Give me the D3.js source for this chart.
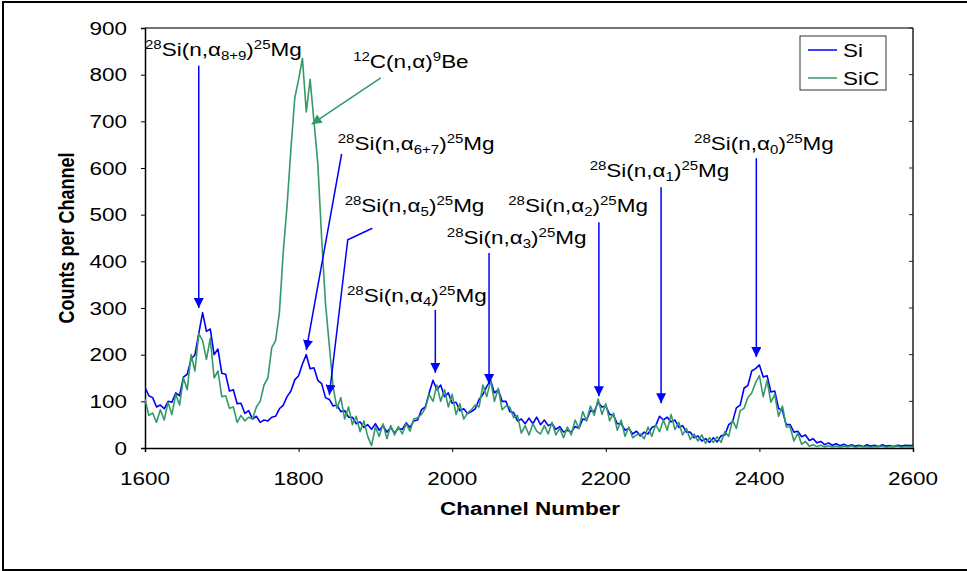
<!DOCTYPE html>
<html><head><meta charset="utf-8">
<script src="https://cdn.jsdelivr.net/npm/d3@7"></script>
<style>body{margin:0;background:#fff}svg{display:block}text{font-family:"Liberation Sans",Arial,sans-serif}</style>
</head><body><svg id="c" width="967" height="571"></svg>
<script>
const channelStart = 1600, channelStep = 5;
const siCounts = [
130,112,108,88,92,84,100,98,118,112,
152,158,190,200,245,290,250,255,200,212,
160,158,122,125,95,96,74,80,62,68,
55,60,58,66,68,84,92,110,122,146,
155,180,200,170,172,145,138,108,104,90,
92,78,80,66,66,52,56,44,50,40,
52,38,48,34,44,32,42,40,54,44,
58,60,82,88,118,145,125,135,110,118,
96,98,80,84,74,78,84,104,115,132,
145,118,125,100,100,78,76,58,62,52,
64,52,66,50,60,48,52,40,46,34,
38,34,46,42,62,60,80,78,98,88,
90,72,70,52,52,38,42,30,36,26,
34,30,44,48,68,60,66,56,60,44,
48,34,34,22,26,15,20,12,22,13,
26,28,50,56,86,92,128,134,165,170,
178,152,155,120,122,85,80,50,50,34,
36,24,28,16,20,11,14,7,11,6,
9,5,8,4,7,4,6,3,7,4,
6,3,7,4,5,3,6,4,6,5,
5];
const sicCounts = [
105,70,75,55,82,60,98,72,115,92,
150,125,200,165,245,230,190,235,150,165,
110,112,85,88,55,70,58,66,62,88,
100,135,150,215,230,290,420,520,640,750,
790,835,720,790,700,610,450,310,220,130,
85,108,62,88,50,68,35,58,25,5,
45,25,52,20,48,28,46,30,52,36,
62,65,72,85,115,100,135,100,125,88,
115,72,95,62,75,82,92,88,135,110,
145,100,128,82,90,88,65,70,32,48,
28,52,36,30,48,30,55,28,42,22,
45,28,60,42,78,58,90,70,105,72,
95,58,75,38,60,25,45,22,28,30,
20,45,25,50,35,60,38,72,40,55,
28,42,18,30,15,28,10,22,12,24,
12,35,25,60,42,80,85,108,118,140,
155,110,145,98,115,68,90,45,45,15,
32,8,14,4,7,3,6,2,5,2,
4,1,4,2,5,1,4,2,3,1,
3,2,4,1,3,2,4,1,3,2,
2];
const xTicks = [1600,1800,2000,2200,2400,2600];
const yTicks = [0,100,200,300,400,500,600,700,800,900];
const seriesNames = ["Si","SiC"];
const seriesColors = ["#0000ff","#339966"];
// annotations: label parts, label anchor (channel, count), arrow path in data coords
const annLabels = [
 {parts:[["28","sup"],["Si(n,α"],["8+9","sub"],[")"],["25","sup"],["Mg"]], at:[1600,840]},
 {parts:[["12","sup"],["C(n,α)"],["9","sup"],["Be"]], at:[1871,814]},
 {parts:[["28","sup"],["Si(n,α"],["6+7","sub"],[")"],["25","sup"],["Mg"]], at:[1851,639]},
 {parts:[["28","sup"],["Si(n,α"],["5","sub"],[")"],["25","sup"],["Mg"]], at:[1860,506]},
 {parts:[["28","sup"],["Si(n,α"],["4","sub"],[")"],["25","sup"],["Mg"]], at:[1863,313]},
 {parts:[["28","sup"],["Si(n,α"],["3","sub"],[")"],["25","sup"],["Mg"]], at:[1993,437]},
 {parts:[["28","sup"],["Si(n,α"],["2","sub"],[")"],["25","sup"],["Mg"]], at:[2073,506]},
 {parts:[["28","sup"],["Si(n,α"],["1","sub"],[")"],["25","sup"],["Mg"]], at:[2179,581]},
 {parts:[["28","sup"],["Si(n,α"],["0","sub"],[")"],["25","sup"],["Mg"]], at:[2315,639]}
];
const annArrows = [
 {pts:[[1670,819],[1670,300]], color:0},
 {pts:[[1907,793],[1817,694]], color:1},
 {pts:[[1856,630],[1810,210]], color:0},
 {pts:[[1896,471],[1864,446],[1840,114]], color:0},
 {pts:[[1978,296],[1978,161]], color:0},
 {pts:[[2048,418],[2048,137]], color:0},
 {pts:[[2191,484],[2191,111]], color:0},
 {pts:[[2272,559],[2272,96]], color:0},
 {pts:[[2396,621],[2396,195]], color:0}
];

const svg = d3.select("#c");
const L=145,R=913,T=28,B=448, SX=1.25;
const x = d3.scaleLinear().domain([1600,2600]).range([L,R]);
const y = d3.scaleLinear().domain([0,900]).range([B,T]);

// outer border
svg.append("rect").attr("x",3).attr("y",2).attr("width",975).attr("height",568)
  .attr("fill","none").attr("stroke","#000").attr("stroke-width",2);

function stext(g, px, py, str, opts={}) {
  const t = g.append("text").attr("transform",`translate(${px},${py}) scale(${SX},1)${opts.rot?" rotate(-90)":""}`)
    .attr("font-size",opts.size||18).attr("text-anchor",opts.anchor||"start")
    .attr("font-weight",opts.bold?"bold":"normal").attr("fill","#000").text(str);
  return t;
}

// plot frame top/right
svg.append("line").attr("x1",L).attr("x2",R).attr("y1",T).attr("y2",T).attr("stroke","#444").attr("stroke-width",1.5);
svg.append("line").attr("x1",R).attr("x2",R).attr("y1",T).attr("y2",B).attr("stroke","#222").attr("stroke-width",1.5);
yTicks.forEach(v=>svg.append("line").attr("x1",R-4).attr("x2",R).attr("y1",y(v)).attr("y2",y(v)).attr("stroke","#222"));

// axes
const gx = svg.append("g").attr("transform",`translate(0,${B})`)
  .call(d3.axisBottom(x).tickValues(xTicks).tickSize(4).tickFormat(""));
const gy = svg.append("g").attr("transform",`translate(${L},0)`)
  .call(d3.axisLeft(y).tickValues(yTicks).tickSize(4).tickFormat(""));
[gx,gy].forEach(g=>{g.select(".domain").attr("stroke","#000").attr("stroke-width",1.5);g.selectAll(".tick line").attr("stroke","#000");});
xTicks.forEach(v=>stext(svg, x(v), 485, String(v), {anchor:"middle"}));
yTicks.forEach(v=>stext(svg, 127, y(v)+6.5, String(v), {anchor:"end"}));
stext(svg, 530, 515, "Channel Number", {anchor:"middle", bold:true});
stext(svg, 74, 238, "Counts per Channel", {anchor:"middle", bold:true, rot:true});

// series
svg.append("clipPath").attr("id","pc").append("rect").attr("x",L).attr("y",T-6).attr("width",R-L).attr("height",B-T+6);
const line = d3.line().x((d,i)=>x(channelStart+i*channelStep)).y(d=>y(d));
[siCounts, sicCounts].forEach((arr,k)=>{
  svg.append("path").datum(arr).attr("d",line).attr("fill","none")
    .attr("stroke",seriesColors[k]).attr("stroke-width",1.6).attr("stroke-linejoin","round")
    .attr("clip-path","url(#pc)");
});

// arrow markers
const defs = svg.append("defs");
seriesColors.forEach((c,k)=>{
  defs.append("marker").attr("id","ah"+k).attr("viewBox","0 0 10 10").attr("refX",10).attr("refY",5)
    .attr("markerWidth",10).attr("markerHeight",10).attr("markerUnits","userSpaceOnUse").attr("orient","auto")
    .append("path").attr("d","M0,0L10,5L0,10Z").attr("fill",c);
});
annArrows.forEach(a=>{
  svg.append("path").attr("d",d3.line().x(p=>x(p[0])).y(p=>y(p[1]))(a.pts))
    .attr("fill","none").attr("stroke",seriesColors[a.color]).attr("stroke-width",1.5)
    .attr("marker-end",`url(#ah${a.color})`);
});

// rich labels
annLabels.forEach(a=>{
  const t = svg.append("text").attr("transform",`translate(${x(a.at[0])},${y(a.at[1])}) scale(${SX},1)`)
    .attr("font-size",18).attr("fill","#000");
  let cur=0;
  a.parts.forEach(p=>{
    const off = p[1]==="sup"?-7:(p[1]==="sub"?4:0);
    t.append("tspan").attr("dy",off-cur).attr("font-size",p[1]?12:18).text(p[0]);
    cur=off;
  });
});

// legend
const lg = svg.append("g");
lg.append("rect").attr("x",800).attr("y",36).attr("width",86).attr("height",54).attr("fill","#fff").attr("stroke","#333").attr("stroke-width",1);
seriesNames.forEach((n,k)=>{
  const yy = 50+k*28;
  lg.append("line").attr("x1",808).attr("x2",837).attr("y1",yy).attr("y2",yy).attr("stroke",seriesColors[k]).attr("stroke-width",1.5);
  stext(lg, 843, yy+6.5, n, {});
});
</script></body></html>
